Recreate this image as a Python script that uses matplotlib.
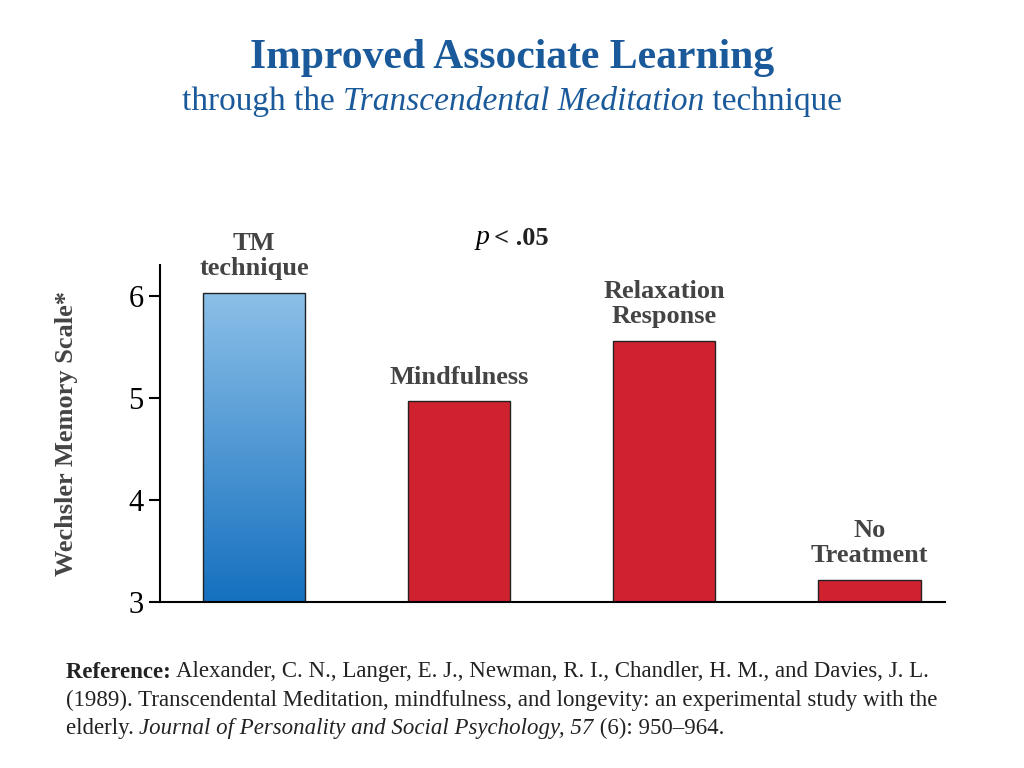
import matplotlib
matplotlib.use("Agg")
import matplotlib.pyplot as plt
import numpy as np

plt.rcParams["font.family"] = "Liberation Serif"

groups = ["TM\ntechnique", "Mindfulness", "Relaxation\nResponse", "No\nTreatment"]
scores = [6.03, 4.97, 5.56, 3.22]
yticks = [3, 4, 5, 6]

red = "#d0222e"
navy = "#1a5a9a"

fig = plt.figure(figsize=(10.24, 7.68), dpi=100)
ax = fig.add_axes([0.156, 0.216, 0.767, 0.439])
x = np.arange(len(groups))
bars = ax.bar(x, [s - 3 for s in scores], bottom=3, width=0.5,
              color=[red] * 4, edgecolor="#222222", linewidth=1, zorder=2)

# gradient fill for the TM bar
b = bars[0]
b.set_facecolor("none")
grad = np.linspace(0, 1, 256).reshape(-1, 1)
cmap = matplotlib.colors.LinearSegmentedColormap.from_list("tm", ["#1570bf", "#8cc0e8"])
bx, by = b.get_x(), b.get_y()
im = ax.imshow(grad, cmap=cmap, origin="lower", aspect="auto",
               extent=[bx, bx + b.get_width(), by, by + b.get_height()], zorder=1)
im.set_clip_path(b)

ax.set_xlim(-0.46, 3.37)
ax.set_ylim(3, 6.3)
ax.set_yticks(yticks)
ax.set_yticklabels([str(t) for t in yticks], fontsize=22)
ax.set_xticks([])
for s in ["top", "right"]:
    ax.spines[s].set_visible(False)
ax.spines["left"].set_linewidth(1.5)
ax.spines["bottom"].set_linewidth(1.5)
ax.tick_params(axis="y", length=8, width=1.5)

for xi, (g, s) in enumerate(zip(groups, scores)):
    ax.text(xi, s + 0.12, g, ha="center", va="bottom", fontsize=19,
            fontweight="bold", color="#444444", linespacing=1.15)

ax.text(1.15, 6.45, "p", style="italic", fontsize=20, ha="right", va="bottom",
        clip_on=False)
ax.text(1.17, 6.45, "< .05", fontsize=19, fontweight="bold", ha="left",
        va="bottom", color="#222222", clip_on=False)

fig.text(0.065, 0.435, "Wechsler Memory Scale*", rotation=90, ha="center",
         va="center", fontsize=19, fontweight="bold", color="#444444")

fig.text(0.5, 0.925, "Improved Associate Learning", ha="center", va="center",
         fontsize=30, fontweight="bold", color=navy)

renderer = fig.canvas.get_renderer()


def run(segments, x0, y0, size, color, center=False):
    texts = []
    xc = x0
    for s, w, st in segments:
        t = fig.text(xc, y0, s, fontsize=size, fontweight=w, style=st,
                     color=color, va="center", ha="left")
        ext = t.get_window_extent(renderer)
        xc += ext.width / fig.bbox.width
        texts.append(t)
    if center:
        shift = (1 - (xc - x0)) / 2 - x0
        for t in texts:
            px, py = t.get_position()
            t.set_position((px + shift, py))


run([("through the ", "normal", "normal"),
     ("Transcendental Meditation", "normal", "italic"),
     (" technique", "normal", "normal")], 0, 0.868, 24, navy, center=True)

ref = "#222222"
run([("Reference: ", "bold", "normal"),
     ("Alexander, C. N., Langer, E. J., Newman, R. I., Chandler, H. M., and Davies, J. L.",
      "normal", "normal")], 0.064, 0.125, 16.5, ref)
run([("(1989). Transcendental Meditation, mindfulness, and longevity: an experimental study with the",
      "normal", "normal")], 0.064, 0.088, 16.5, ref)
run([("elderly. ", "normal", "normal"),
     ("Journal of Personality and Social Psychology, 57", "normal", "italic"),
     (" (6): 950\u2013964.", "normal", "normal")], 0.064, 0.051, 16.5, ref)

fig.savefig("out.png", dpi=100)
